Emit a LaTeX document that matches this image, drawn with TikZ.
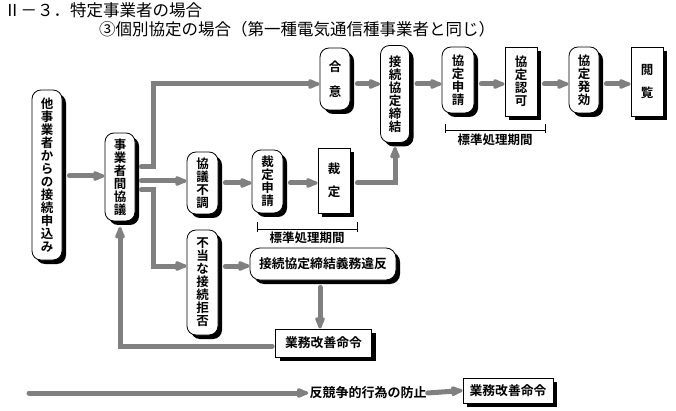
\documentclass[tikz,border=0pt]{standalone}
\usepackage{fontspec}
\newfontfamily\jp[BoldFont={Noto Sans CJK JP Bold}]{Noto Sans CJK JP}
\usetikzlibrary{shadows,arrows.meta}
\begin{document}
\begin{tikzpicture}[x=1pt,y=-1pt,
  box/.style={draw=black, line width=0.8pt, fill=white, inner sep=0pt, align=center,
    font=\jp\bfseries\fontsize{12.5}{13}\selectfont,
    drop shadow={shadow xshift=4pt, shadow yshift=-4pt, fill=black, opacity=1}},
  rbox/.style={box, rounded corners=9pt},
  flow/.style={draw=gray, line width=5pt, line cap=round, line join=miter,
    -{Latex[length=17pt,width=12pt,round]}},
  brk/.style={draw=black, line width=1pt},
  lbl/.style={inner sep=1pt, font=\jp\bfseries\fontsize{12.5}{13}\selectfont},
  ttl/.style={inner sep=0pt, anchor=west, font=\jp\fontsize{16.5}{18}\selectfont}
]
\useasboundingbox (0,0) rectangle (676,411);

\node[ttl] (t1) at (4,10.5) {Ⅱ－３．特定事業者の場合};
\node[ttl] (t2) at (99,29) {③個別協定の場合（第一種電気通信種事業者と同じ）};

\node[rbox, minimum width=30pt, minimum height=170pt] (A) at (47,175)
  {他\\事\\業\\者\\か\\ら\\の\\接\\続\\申\\込\\み};
\node[rbox, minimum width=30pt, minimum height=88pt] (B) at (120,177)
  {事\\業\\者\\間\\協\\議};
\node[rbox, minimum width=30pt, minimum height=62pt, font=\jp\bfseries\fontsize{12.5}{25}\selectfont] (C) at (335,79)
  {合\\意};
\node[rbox, minimum width=29pt, minimum height=97pt] (D) at (395,94)
  {接\\続\\協\\定\\締\\結};
\node[rbox, minimum width=32pt, minimum height=66pt] (E) at (458,80)
  {協\\定\\申\\請};
\node[box, minimum width=32pt, minimum height=69pt] (F) at (521,81.5)
  {協\\定\\認\\可};
\node[rbox, minimum width=30pt, minimum height=66pt] (G) at (584,80)
  {協\\定\\発\\効};
\node[box, minimum width=32pt, minimum height=69pt, font=\jp\bfseries\fontsize{12.5}{23}\selectfont] (H) at (647,81.5)
  {閲\\覧};
\node[rbox, minimum width=31pt, minimum height=62pt] (I) at (202.5,183)
  {協\\議\\不\\調};
\node[rbox, minimum width=31pt, minimum height=63pt] (J) at (267.5,181.5)
  {裁\\定\\申\\請};
\node[box, minimum width=32pt, minimum height=65pt, font=\jp\bfseries\fontsize{12.5}{23}\selectfont] (K) at (334,180.5)
  {裁\\定};
\node[rbox, minimum width=31pt, minimum height=105pt] (L) at (202.5,282.5)
  {不\\当\\な\\接\\続\\拒\\否};
\node[rbox, rounded corners=10pt, minimum width=146pt, minimum height=32pt, font=\jp\bfseries\fontsize{12.8}{13}\selectfont] (M) at (323,264)
  {接続協定締結義務違反};
\node[box, minimum width=96pt, minimum height=28pt, font=\jp\bfseries\fontsize{12.8}{13}\selectfont] (N) at (323.5,343)
  {業務改善命令};
\node[box, minimum width=90pt, minimum height=25pt, font=\jp\bfseries\fontsize{12.8}{13}\selectfont] (O) at (508,390.5)
  {業務改善命令};
\node[lbl, font=\jp\bfseries\fontsize{13}{13}\selectfont] (T) at (368,393) {反競争的行為の防止};

% brackets
\node[lbl] (P1) at (307,238) {標準処理期間};
\coordinate (p1a) at (257,230);
\coordinate (p1b) at (357,230);
\draw[brk] (p1a) -- (p1b);
\draw[brk] ([yshift=8pt]p1a) -- ([yshift=-2pt]p1a);
\draw[brk] ([yshift=8pt]p1b) -- ([yshift=-2pt]p1b);

\node[lbl] (P2) at (495,140) {標準処理期間};
\coordinate (p2a) at (445,131);
\coordinate (p2b) at (545,131);
\draw[brk] (p2a) -- (p2b);
\draw[brk] ([yshift=7pt]p2a) -- ([yshift=-2pt]p2a);
\draw[brk] ([yshift=7pt]p2b) -- ([yshift=-2pt]p2b);

% connectors
\draw[flow] ([xshift=7pt]A.east |- 0,176) -- (B.west |- 0,176);
\draw[flow] ([xshift=6pt]B.east |- 0,167) -| (153,84) -- (C.west |- 0,84);
\draw[flow] ([xshift=6pt]B.east |- 0,181) -- (I.west |- 0,181);
\draw[flow] ([xshift=6pt]B.east |- 0,190) -| (153,266) -- (L.west |- 0,266);
\draw[flow] ([xshift=7pt]I.east |- 0,183) -- (J.west |- 0,183);
\draw[flow] ([xshift=7pt]J.east |- 0,183) -- (K.west |- 0,183);
\draw[flow] ([xshift=7pt]K.east |- 0,183) -| ([yshift=-4pt]D.south);
\draw[flow] ([xshift=7pt]C.east |- 0,84) -- (D.west |- 0,84);
\draw[flow] ([xshift=7pt]D.east |- 0,84) -- (E.west |- 0,84);
\draw[flow] ([xshift=7pt]E.east |- 0,84) -- (F.west |- 0,84);
\draw[flow] ([xshift=7pt]F.east |- 0,84) -- (G.west |- 0,84);
\draw[flow] ([xshift=7pt]G.east |- 0,84) -- (H.west |- 0,84);
\draw[flow] ([xshift=7pt]L.east |- 0,266) -- (M.west |- 0,266);
\draw[flow] ([yshift=-7pt]M.south -| 320,0) -- (N.north -| 320,0);
\draw[flow] ([xshift=-3pt]N.west |- 0,346) -| (120,227);
\coordinate (bs) at (29,393);
\draw[flow] (bs) -- (T.west);
\draw[flow] (T.east) -- (O.west);
\end{tikzpicture}
\end{document}
